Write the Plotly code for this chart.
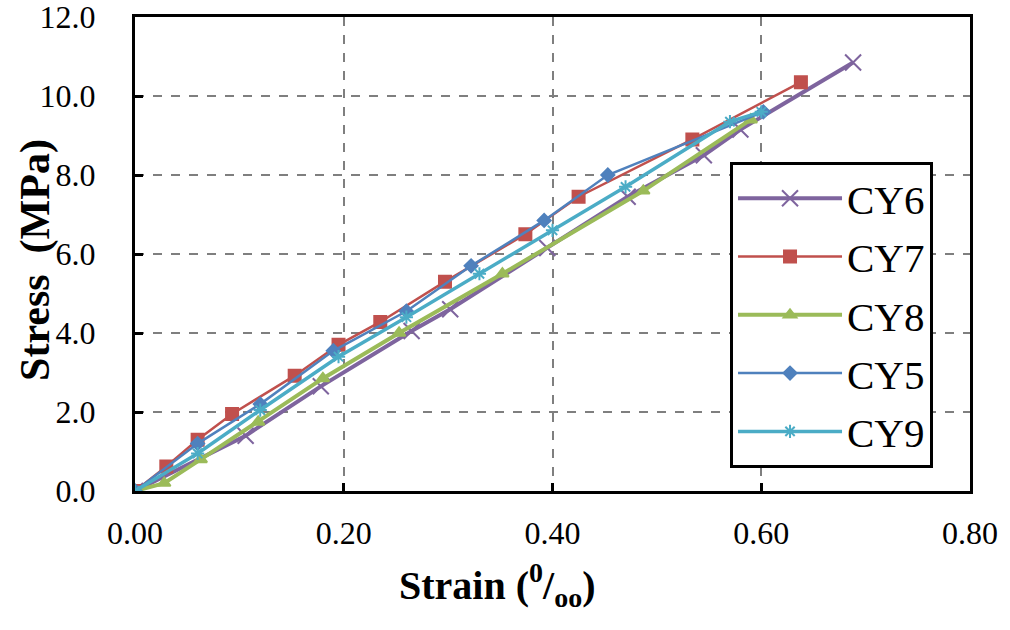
import plotly.graph_objects as go

# Stress-strain readings per specimen (strain in per mille, stress in MPa)
CY6_STRAIN = [0.0, 0.106, 0.178, 0.265, 0.302, 0.395, 0.472, 0.545, 0.580, 0.688]
CY6_STRESS = [0.0, 1.40, 2.65, 4.05, 4.60, 6.15, 7.45, 8.50, 9.15, 10.85]

CY7_STRAIN = [0.0, 0.030, 0.060, 0.093, 0.153, 0.195, 0.235, 0.297, 0.374, 0.425, 0.534, 0.638]
CY7_STRESS = [0.0, 0.62, 1.30, 1.95, 2.92, 3.70, 4.28, 5.30, 6.50, 7.45, 8.90, 10.35]

CY8_STRAIN = [0.0, 0.028, 0.063, 0.118, 0.180, 0.253, 0.352, 0.487, 0.590]
CY8_STRESS = [0.0, 0.20, 0.80, 1.75, 2.85, 4.00, 5.50, 7.60, 9.40]

CY5_STRAIN = [0.0, 0.060, 0.120, 0.190, 0.260, 0.322, 0.392, 0.453, 0.602]
CY5_STRESS = [0.0, 1.20, 2.20, 3.55, 4.55, 5.70, 6.85, 8.00, 9.60]

CY9_STRAIN = [0.0, 0.060, 0.120, 0.195, 0.260, 0.330, 0.400, 0.470, 0.570, 0.600]
CY9_STRESS = [0.0, 0.95, 2.05, 3.40, 4.40, 5.50, 6.60, 7.70, 9.35, 9.60]

X_TICKS = [0.0, 0.2, 0.4, 0.6, 0.8]
X_LABELS = ["0.00", "0.20", "0.40", "0.60", "0.80"]
Y_TICKS = [0, 2, 4, 6, 8, 10, 12]
Y_LABELS = ["0.0", "2.0", "4.0", "6.0", "8.0", "10.0", "12.0"]

FONT = "Liberation Serif, Times New Roman, serif"

# name, x, y, color, line width, marker symbol, marker size
SERIES = [
    ("CY6", CY6_STRAIN, CY6_STRESS, "#7E649E", 4, "x-thin-open", 16),
    ("CY7", CY7_STRAIN, CY7_STRESS, "#C0504D", 2.5, "square", 12),
    ("CY8", CY8_STRAIN, CY8_STRESS, "#9BBB59", 4, "triangle-up", 11),
    ("CY5", CY5_STRAIN, CY5_STRESS, "#4F81BD", 2.5, "diamond", 10),
    ("CY9", CY9_STRAIN, CY9_STRESS, "#4BACC6", 3.5, "asterisk-open", 11),
]

fig = go.Figure()
for name, xs, ys, color, lw, symbol, msize in SERIES:
    fig.add_trace(
        go.Scatter(
            x=xs,
            y=ys,
            mode="lines+markers",
            name=name,
            legendgroup=name,
            line=dict(color=color, width=lw),
            marker=dict(symbol=symbol, size=msize, color=color,
                        line=dict(color=color, width=2)),
        )
    )

fig.update_layout(
    width=1010,
    height=630,
    paper_bgcolor="white",
    plot_bgcolor="white",
    font=dict(family=FONT, color="black"),
    margin=dict(l=135, r=40, t=17, b=139),
    showlegend=True,
    legend=dict(
        x=0.7126,
        y=0.694,
        xanchor="left",
        yanchor="top",
        bgcolor="white",
        bordercolor="black",
        borderwidth=3,
        font=dict(family=FONT, size=41, color="black"),
        itemwidth=104,
        tracegroupgap=2,
        traceorder="grouped",
    ),
    annotations=[
        # axis titles placed by hand, the original has them off-centre
        dict(
            text="<b>Stress  (MPa)</b>",
            xref="paper", yref="paper",
            x=-0.12, y=0.487,
            xanchor="center", yanchor="middle",
            textangle=-90,
            showarrow=False,
            font=dict(family=FONT, size=42, color="black"),
        ),
        dict(
            text="<b>Strain (<sup>0</sup>/<sub>oo</sub>)</b>",
            xref="paper", yref="paper",
            x=0.434, y=-0.198,
            xanchor="center", yanchor="middle",
            showarrow=False,
            font=dict(family=FONT, size=40, color="black"),
        ),
    ],
)

fig.update_xaxes(
    range=[0, 0.8],
    tickvals=X_TICKS,
    ticktext=X_LABELS,
    tickfont=dict(family=FONT, size=32, color="black"),
    ticks="inside",
    ticklen=8,
    tickwidth=3,
    tickcolor="black",
    ticklabelstandoff=12,
    ticklabeloverflow="allow",
    automargin=False,
    showline=True,
    linecolor="black",
    linewidth=3,
    mirror=True,
    showgrid=True,
    gridcolor="#7f7f7f",
    griddash="dash",
    gridwidth=1.5,
    zeroline=False,
)
fig.update_yaxes(
    range=[0, 12],
    tickvals=Y_TICKS,
    ticktext=Y_LABELS,
    tickfont=dict(family=FONT, size=32, color="black"),
    ticks="inside",
    ticklen=8,
    tickwidth=3,
    tickcolor="black",
    ticklabelstandoff=30,
    ticklabeloverflow="allow",
    automargin=False,
    showline=True,
    linecolor="black",
    linewidth=3,
    mirror=True,
    showgrid=True,
    gridcolor="#7f7f7f",
    griddash="dash",
    gridwidth=1.5,
    zeroline=False,
)

fig.write_html(
    "out.html",
    config={"displayModeBar": False},
    post_script="document.body.style.margin='0px';",
)
